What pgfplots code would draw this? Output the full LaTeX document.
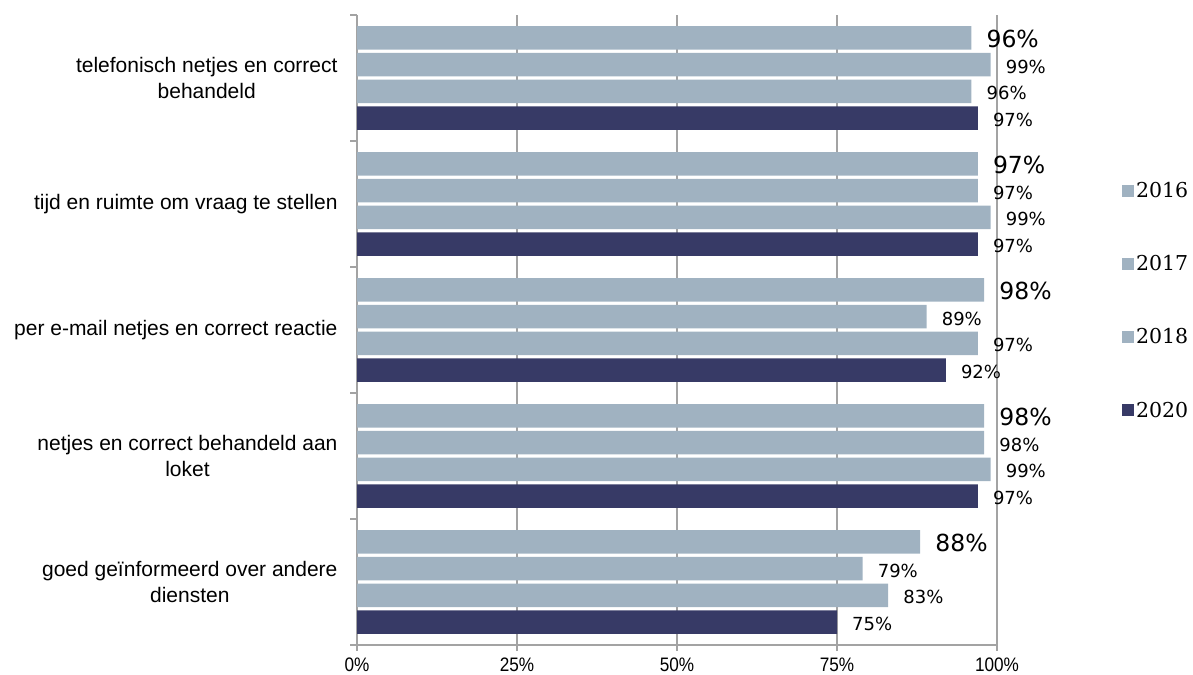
\documentclass[border=0pt]{standalone}
\usepackage{fontspec}
\setmainfont{Liberation Sans}
\usepackage{pgfplots}
\usepackage{pgfplotstable}
\pgfplotsset{compat=1.18}

\newfontfamily\valuefont{DejaVu Sans}
\newfontfamily\yearfont{DejaVu Serif}
\newfontfamily\narrowfont[FakeStretch=0.88]{Liberation Sans}

\definecolor{lightbar}{HTML}{A0B2C1}
\definecolor{darkbar}{HTML}{373A66}
\definecolor{axisgray}{HTML}{A3A3A3}

% share of respondents (%) per statement, statement 4 is the top row
\pgfplotstableread{
cat y2016 y2017 y2018 y2020
4   96    99    96    97
3   97    97    99    97
2   98    89    97    92
1   98    98    99    97
0   88    79    83    75
}\scores

\begin{document}
\begin{tikzpicture}
\useasboundingbox (0,0) rectangle (1193bp,675bp);
\begin{axis}[
  at={(357bp,30bp)}, anchor=south west,
  scale only axis, width=640bp, height=630bp,
  xmin=0, xmax=100, ymin=-0.5, ymax=4.5,
  xbar, bar width=0.186,
  axis x line*=bottom, axis y line*=left,
  axis line style={axisgray, line width=1.3bp, -},
  xtick={0,25,50,75,100},
  xticklabels={0\%,25\%,50\%,75\%,100\%},
  xticklabel style={font=\narrowfont\fontsize{19.5bp}{21bp}\selectfont, yshift=-3bp},
  xmajorgrids,
  grid style={axisgray, line width=1.3bp},
  tick align=outside,
  major tick length=6bp, minor tick length=7bp,
  tick style={axisgray, line width=1.3bp},
  ytick={0,...,4},
  minor ytick={-0.5,0.5,...,4.5},
  major y tick style={draw=none},
  yticklabels={
    {goed geïnformeerd over andere\\diensten},
    {netjes en correct behandeld aan\\loket},
    {per e-mail netjes en correct reactie},
    {tijd en ruimte om vraag te stellen},
    {telefonisch netjes en correct\\behandeld}},
  yticklabel style={align=center, font=\fontsize{21bp}{26bp}\selectfont, xshift=-10bp},
  point meta=x,
  nodes near coords={\pgfmathprintnumber[assume math mode=true]{\pgfplotspointmeta}\%},
  nodes near coords style={anchor=west, inner xsep=0pt, xshift=15bp, yshift=-2bp,
    font=\valuefont\fontsize{18bp}{20bp}\selectfont},
  legend style={draw=none, fill=none, inner sep=0pt,
    at={(axis description cs:1.195,0.738)}, anchor=north west,
    row sep=52.5bp, font=\yearfont\fontsize{20.5bp}{22bp}\selectfont},
  legend cell align=left,
  legend image code/.code={\fill[#1,draw=none] (0bp,-6bp) rectangle (12bp,6bp);},
]
\addplot[fill=lightbar, draw=none, bar shift=0.318,
  every node near coord/.append style={yshift=1bp, font=\valuefont\fontsize{23.5bp}{26bp}\selectfont}]
  table[x=y2016, y=cat] {\scores};
\addlegendentry{2016}
\addplot[fill=lightbar, draw=none, bar shift=0.106]
  table[x=y2017, y=cat] {\scores};
\addlegendentry{2017}
\addplot[fill=lightbar, draw=none, bar shift=-0.106]
  table[x=y2018, y=cat] {\scores};
\addlegendentry{2018}
\addplot[fill=darkbar, draw=none, bar shift=-0.318]
  table[x=y2020, y=cat] {\scores};
\addlegendentry{2020}
\end{axis}
\end{tikzpicture}
\end{document}
